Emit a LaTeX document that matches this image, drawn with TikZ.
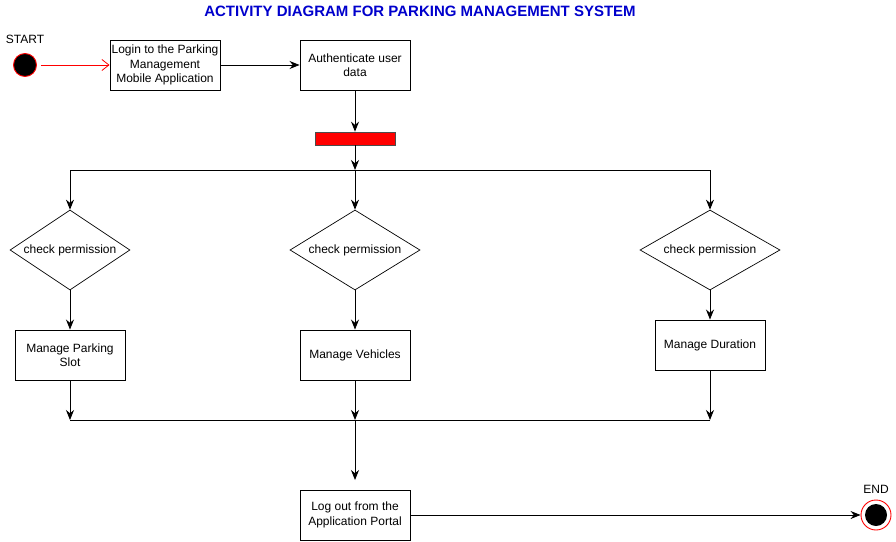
\documentclass[tikz,border=0pt]{standalone}
\usepackage{fontspec}
\setmainfont{Liberation Sans}
\usetikzlibrary{shapes.geometric,arrows.meta}
\definecolor{titleblue}{RGB}{0,0,204}
\definecolor{barred}{RGB}{255,0,0}
\tikzset{
  x=1pt,y=-1pt,
  every node/.style={font=\fontsize{12}{14.5}\selectfont},
  actbox/.style={draw,line width=0.9pt,minimum width=110pt,minimum height=50pt,align=center,inner sep=1pt},
  decision/.style={draw,line width=0.7pt,diamond,inner sep=0pt,minimum height=80pt},
  flow/.style={line width=0.9pt,-{Stealth[length=10pt,width=8pt]}},
  plain/.style={line width=0.9pt},
}
\begin{document}
\begin{tikzpicture}
\useasboundingbox (0,0) rectangle (896,541);
\node[font=\bfseries\fontsize{15}{18}\selectfont,text=titleblue] (title) at (420,11) {ACTIVITY DIAGRAM FOR PARKING MANAGEMENT SYSTEM};
% start
\node[circle,fill=black,draw=barred,line width=0.9pt,minimum size=23pt,inner sep=0pt] (start) at (25,65) {};
\node (startlbl) at (25,39) {START};
\node[actbox] (login) at (165,65) {Login to the Parking\\Management\\Mobile Application};
\node[actbox] (auth) at (355,65) {Authenticate user\\data};
\node[draw=black!70,fill=barred,minimum width=80pt,minimum height=13pt,inner sep=0pt,line width=0.6pt] (bar) at (355,138.5) {};
% fork junction
\coordinate (jtop) at (355,170);
\coordinate (jl) at (70,170);
\coordinate (jr) at (710,170);
\node[decision,minimum width=120pt] (d1) at (70,250) {\makebox[0pt]{check permission}};
\node[decision,minimum width=130pt] (d2) at (355,250) {\makebox[0pt]{check permission}};
\node[decision,minimum width=140pt] (d3) at (710,250) {\makebox[0pt]{check permission}};
\node[actbox] (m1) at (70,355) {Manage Parking\\Slot};
\node[actbox] (m2) at (355,355) {Manage Vehicles};
\node[actbox] (m3) at (710,345) {Manage Duration};
% join junction
\coordinate (bl) at (70,420);
\coordinate (bm) at (355,420);
\coordinate (br) at (710,420);
\coordinate (lgtop) at (355,480);
\node[actbox] (logout) at (355,515) {Log out from the\\Application Portal};
\node[circle,draw=barred,line width=0.9pt,minimum size=30pt,inner sep=0pt] (end) at (876,515) {};
\node[circle,fill=black,minimum size=22pt,inner sep=0pt] (endin) at (876,515) {};
\node (endlbl) at (876,489) {END};
% connectors
\draw[barred,line width=0.8pt,-{Straight Barb[length=7pt,width=11pt]}] (start.east) ++(4,0) coordinate (sx) -- (login.west);
\draw[flow] (login) -- (auth);
\draw[flow] (auth) -- (bar);
\draw[flow] (bar) -- (jtop);
\draw[plain] (jl) -- (jr);
\draw[flow] (jl) -- (d1);
\draw[flow] (jtop) -- (d2);
\draw[flow] (jr) -- (d3);
\draw[flow] (d1) -- (m1);
\draw[flow] (d2) -- (m2);
\draw[flow] (d3) -- (m3);
\draw[flow] (m1) -- (bl);
\draw[flow] (m2) -- (bm);
\draw[flow] (m3) -- (br);
\draw[plain] (bl) -- (br);
\draw[flow] (bm) -- (lgtop);
\draw[flow] (logout) -- (end);
\end{tikzpicture}
\end{document}
